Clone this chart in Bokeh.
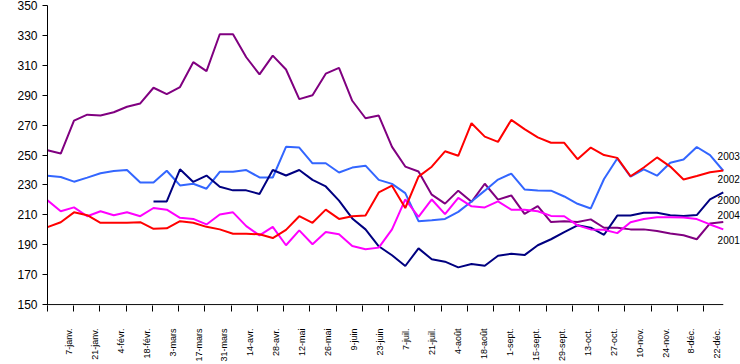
import math
import numpy as np
from bokeh.plotting import figure
from bokeh.models import Range1d, FixedTicker, CustomJSTickFormatter, ColumnDataSource
from bokeh.core.properties import value
from bokeh.embed import file_html
from bokeh.resources import INLINE

# ---- data -----------------------------------------------------------
weeks = list(range(52))

date_labels = ["7-janv.", "21-janv.", "4-févr.", "18-févr.", "3-mars", "17-mars",
               "31-mars", "14-avr.", "28-avr.", "12-mai", "26-mai", "9-juin",
               "23-juin", "7-juil.", "21-juil.", "4-août", "18-août", "1-sept.",
               "15-sept.", "29-sept.", "13-oct.", "27-oct.", "10-nov.", "24-nov.",
               "8-déc.", "22-déc."]

y_ticks = [150, 170, 190, 210, 230, 250, 270, 290, 310, 330, 350]

s2000 = [None] * 8 + [219, 219, 240.5, 232, 236.3, 228.8, 226.4, 226.4, 224, 240,
                      236.3, 240, 233.4, 229, 219.5, 207.6, 200.3, 189, 183, 175.8,
                      187.6, 180.3, 178.7, 174.9, 177.2, 176, 182.7, 184, 183.1, 189.7,
                      193.7, 198.5, 203, 201.4, 196.7, 209.5, 209.6, 211.4, 211.4, 209.8,
                      209.3, 209.9, 220.4, 225.1]

s2001 = [253.2, 251, 273, 277, 276.4, 278.6, 282.3, 284.5, 295, 290.7,
         295.5, 312.1, 306.1, 330.8, 330.8, 315.4, 303.9, 316.5, 307.2, 287.4,
         290, 304.4, 308.3, 286.3, 274.6, 276.4, 255.5, 242.3, 239, 223.5,
         217.5, 226.2, 218.7, 230.8, 220.2, 223, 210.7, 215.8, 205.2, 205.8,
         205.2, 207, 201.4, 201.4, 200.3, 200.3, 199.2, 197.5, 196.4, 193.7,
         204.3, 205.2]

s2002 = [201.8, 205.1, 211.7, 209.8, 204.7, 204.7, 204.7, 205.1, 200.7, 201,
         205.8, 204.7, 202, 200.3, 197.4, 197.4, 197, 194.5, 200, 209.1,
         204.7, 213.5, 207.3, 209.1, 209.5, 225, 229.5, 214.6, 235.6, 242.2,
         252.5, 249.5, 271.3, 262.3, 258.8, 273.5, 267.3, 261.8, 258.2, 258.2,
         247.2, 255, 250, 248.1, 235.8, 241.7, 248.4, 242.3, 233.7, 236,
         238.5, 239.6]

s2003 = [236.2, 235.3, 232.2, 234.9, 237.8, 239.3, 240.0, 231.6, 231.6, 239.5,
         229.7, 230.8, 227.5, 238.8, 238.8, 240, 235, 235, 255.5, 255,
         244.5, 244.5, 238.3, 241.6, 242.9, 233.4, 230.7, 224.5, 205.8, 206.4,
         207.3, 212, 219, 226.2, 233.6, 237.6, 227, 226.3, 226.2, 222.3,
         217.4, 214.3, 234, 247.7, 235.6, 240.4, 236.2, 244.9, 247, 255.4,
         249.9, 239.5]

s2004 = [219.7, 212.4, 215.0, 209.1, 212.4, 209.8, 211.7, 209.1, 214.6, 213.5,
         208, 207.3, 203.6, 210.2, 211.7, 202.5, 196.3, 202, 189.7, 199.6,
         190.4, 198.5, 197, 189.2, 187, 188.1, 200.3, 220.3, 208.7, 220.3,
         210.5, 221.4, 215.7, 215, 219, 213.5, 213.5, 212.4, 209.3, 209.1,
         203, 200.3, 200, 197.8, 205.1, 207.3, 208.4, 208.4, 208.2, 207.2,
         203.6, 200.3]

series_names = ["2003", "2002", "2000", "2004", "2001"]

# ---- styling / layout -------------------------------------------------
colors = {"2000": "#000080", "2001": "#800080", "2002": "#FF0000",
          "2003": "#3366FF", "2004": "#FF00FF"}
# position of the series names at the right edge (week units, value units)
name_x = 50.57
name_y = {"2003": 249.3, "2002": 234.0, "2000": 220.0, "2004": 210.0, "2001": 193.0}

FONT = "Liberation Sans"
tick_step = 1.981      # axis tick spacing, in weeks
label_shift = 1.61     # label offset from first tick, in weeks
label_step = 1.958     # label spacing, in weeks
x_end = 52.3           # frame extends past the last week to hold the series names
y_start = 149.4        # keep the drawn base line just inside the frame

p = figure(width=740, height=364, output_backend="svg", toolbar_location=None,
           x_range=Range1d(0, x_end), y_range=Range1d(y_start, 350),
           min_border_left=47, min_border_right=0, min_border_top=5,
           min_border_bottom=58)
p.outline_line_color = None
p.xgrid.visible = False
p.ygrid.visible = False
p.background_fill_color = "white"
p.border_fill_color = "white"

data = {"x": weeks,
        "2000": np.array(s2000, dtype=float),
        "2001": np.array(s2001, dtype=float),
        "2002": np.array(s2002, dtype=float),
        "2003": np.array(s2003, dtype=float),
        "2004": np.array(s2004, dtype=float)}
src = ColumnDataSource(data)

for name in ["2001", "2003", "2000", "2004", "2002"]:
    p.line("x", name, source=src, line_color=colors[name], line_width=2)

# category axis base line, ending at the last week
p.segment(x0=[weeks[0]], y0=[y_ticks[0]], x1=[weeks[-1]], y1=[y_ticks[0]],
          line_color="black", line_width=1)

# series names at the right end
p.text(x=[name_x] * len(series_names), y=[name_y[n] for n in series_names],
       text=series_names, text_font=value(FONT), text_font_size="10px",
       text_color="black", text_baseline="middle", text_align="left")

# y axis
p.yaxis.ticker = FixedTicker(ticks=y_ticks)
p.yaxis.major_tick_out = 5
p.yaxis.major_tick_in = 0
p.yaxis.minor_tick_line_color = None
p.yaxis.axis_line_color = "black"
p.yaxis.major_label_text_font = FONT
p.yaxis.major_label_text_font_size = "12px"
p.yaxis.major_label_text_color = "black"
p.yaxis.major_label_standoff = 5

# x axis: labels at their own positions, tick marks drawn as minor ticks
tick_pos = [k * tick_step for k in range(len(date_labels))]
label_pos = [label_shift + k * label_step for k in range(len(date_labels))]
p.xaxis.ticker = FixedTicker(ticks=label_pos, minor_ticks=tick_pos)
p.xaxis.formatter = CustomJSTickFormatter(args=dict(labels=date_labels),
                                          code="return labels[index] || '';")
p.xaxis.major_tick_line_color = None
p.xaxis.minor_tick_line_color = "black"
p.xaxis.minor_tick_out = 6
p.xaxis.minor_tick_in = 0
p.xaxis.axis_line_color = None
p.xaxis.major_label_orientation = math.pi / 2
p.xaxis.major_label_text_font = FONT
p.xaxis.major_label_text_font_size = "9px"
p.xaxis.major_label_text_color = "black"
p.xaxis.major_label_standoff = 17

open("out.html", "w").write(file_html(p, INLINE))
